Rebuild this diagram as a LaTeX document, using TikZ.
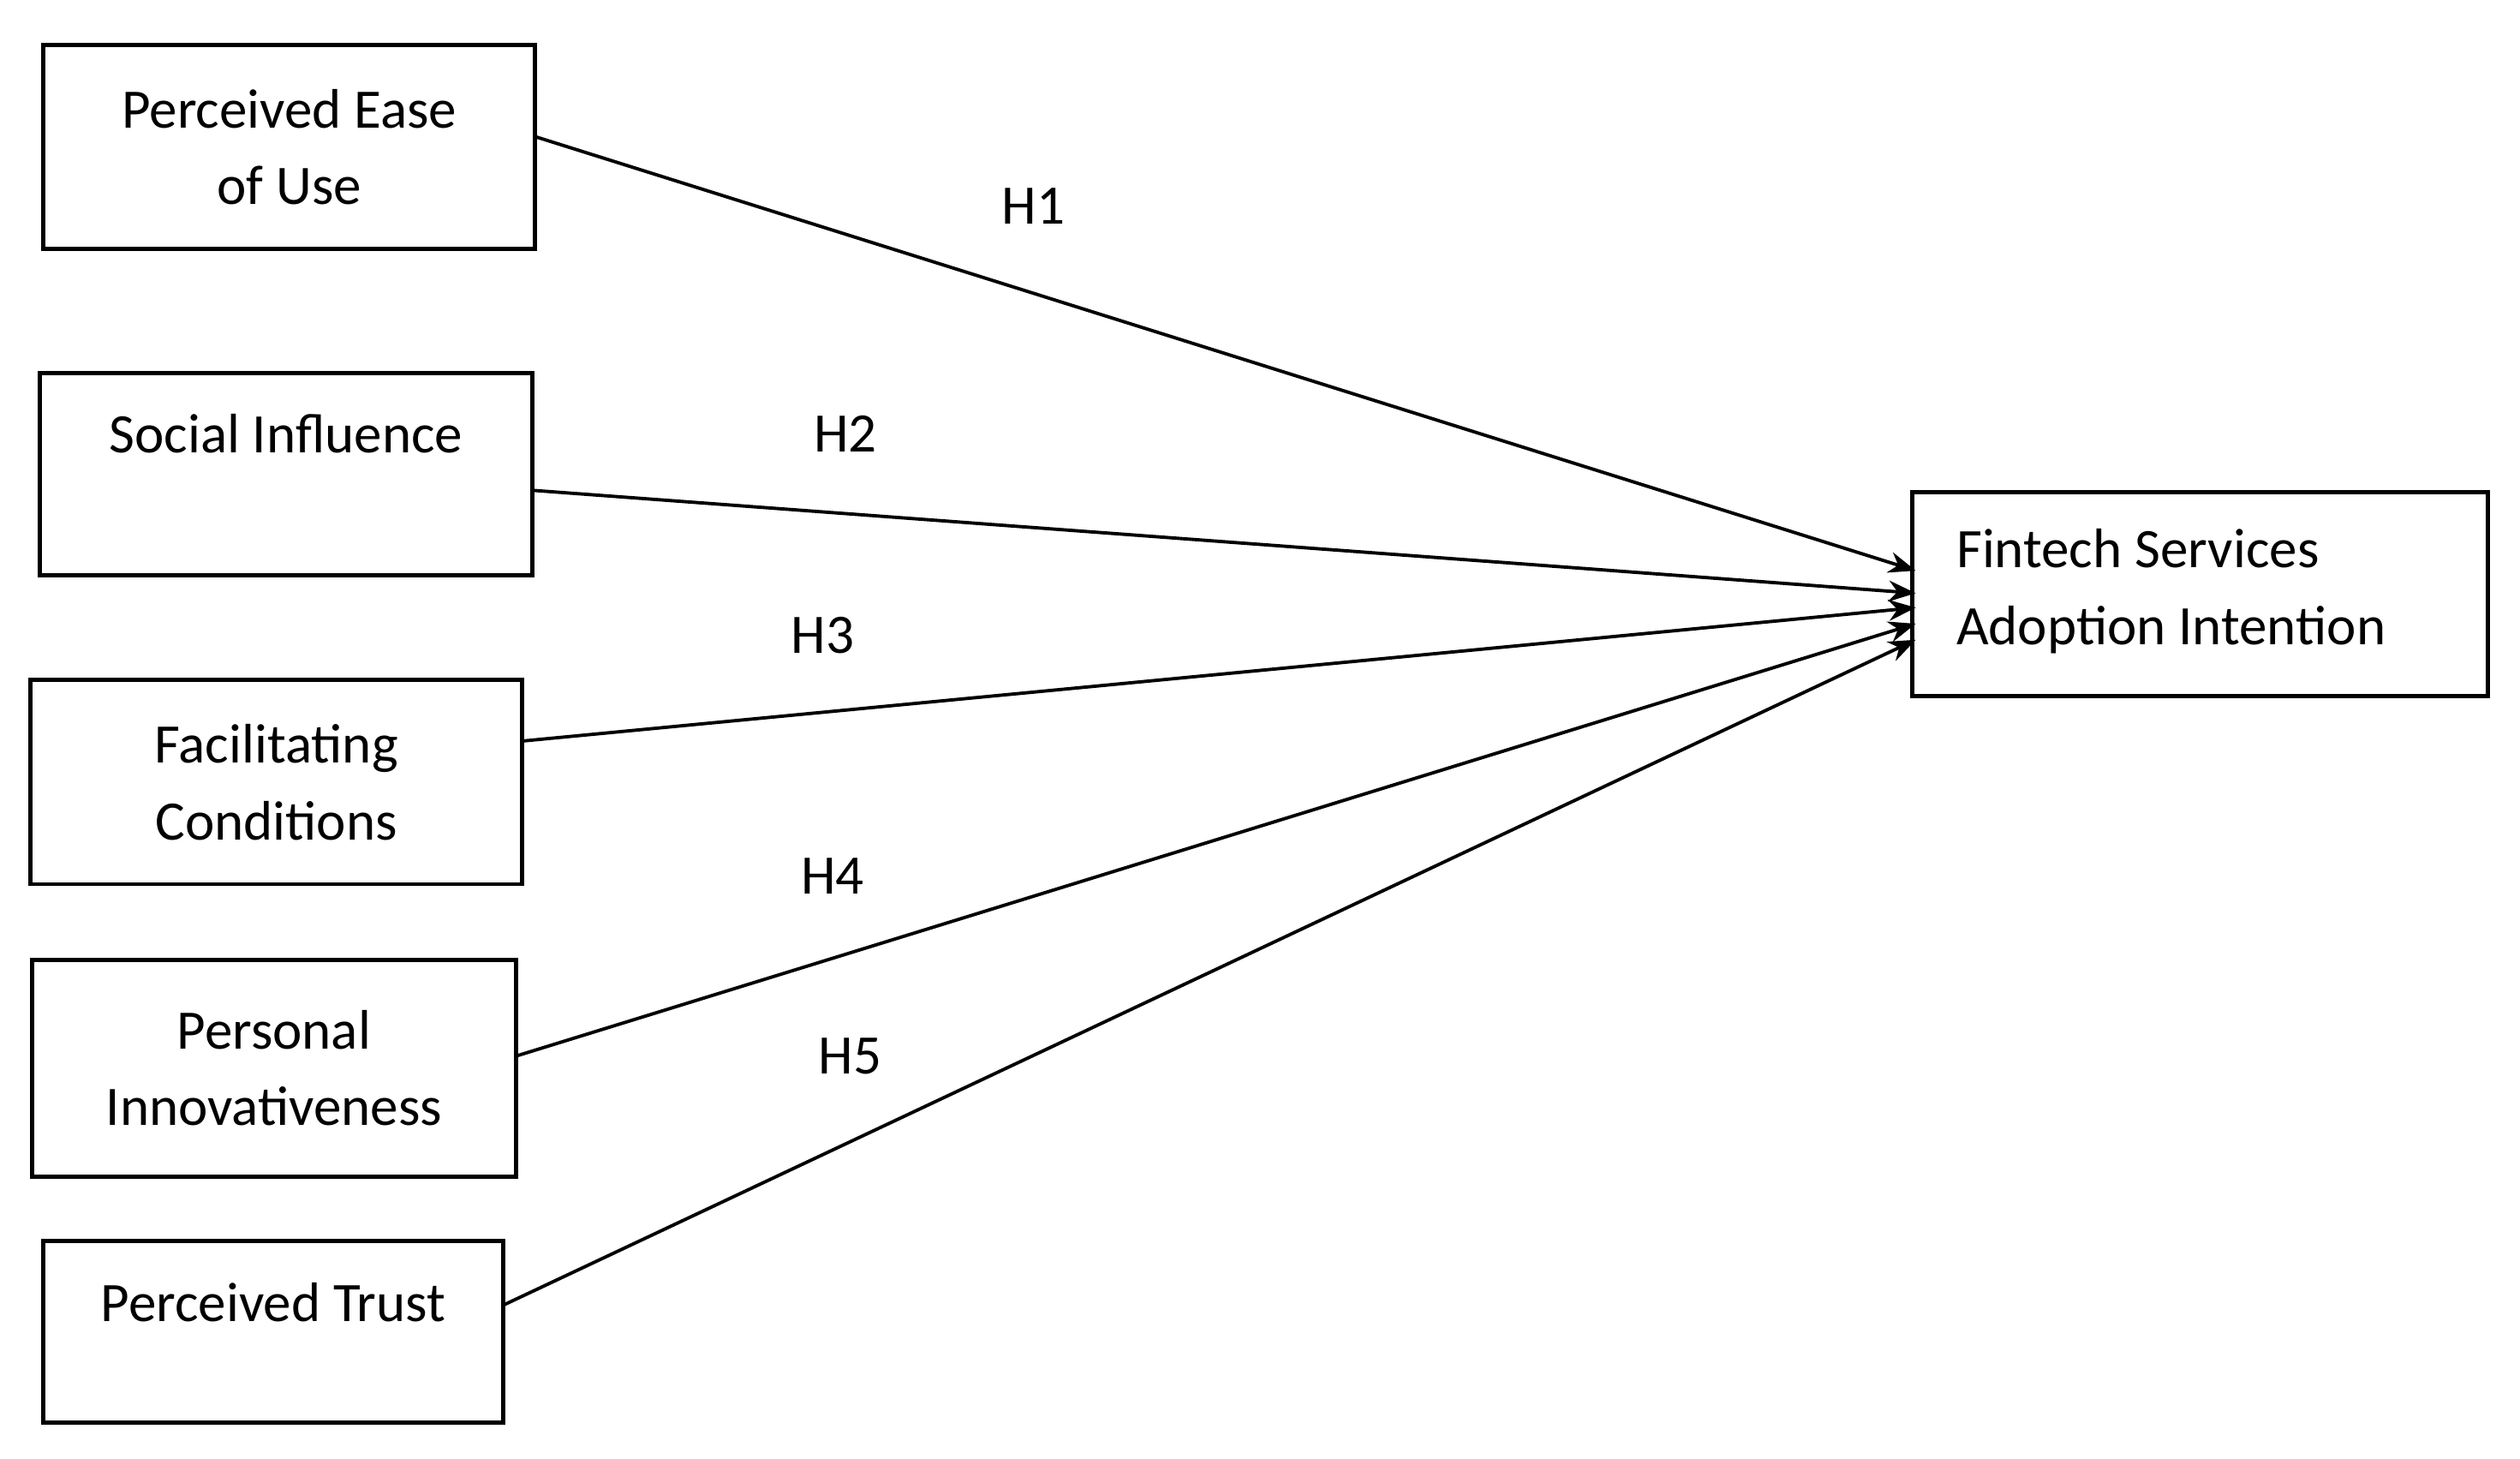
\documentclass[tikz,border=0pt]{standalone}
\usepackage{fontspec}
\setmainfont{Carlito}
\usetikzlibrary{arrows.meta}
\begin{document}
\def\px{0.01876cm}
\begin{tikzpicture}[x=0.01876cm,y=-0.01876cm,
  box/.style={draw,line width=1.4pt,inner sep=0pt,align=center,font=\fontsize{18.5}{25.5}\selectfont},
  lbl/.style={font=\fontsize{18.5}{20}\selectfont,inner sep=0pt},
  txt/.style={font=\fontsize{18.5}{25.5}\selectfont,inner sep=0pt,align=left},
  arr/.style={line width=1.1pt,-{Stealth[length=9pt,width=7pt]}}]
\useasboundingbox (0,0) rectangle (1568,907.6);
\node[box,minimum width={306*\px},minimum height={127*\px}] (peou) at (180,91.5) {Perceived Ease\\of Use};
\node[box,minimum width={306*\px},minimum height={126*\px}] (si) at (178,295) {};
\node[txt] (sit) at (178,270) {Social Influence};
\node[box,minimum width={306*\px},minimum height={127*\px}] (fc) at (172,486.5) {Facilitating\\Conditions};
\node[box,minimum width={301*\px},minimum height={135*\px}] (pi) at (170.5,664.5) {Personal\\Innovativeness};
\node[box,minimum width={286*\px},minimum height={113*\px}] (pt) at (170,828.5) {};
\node[txt] (ptt) at (170,810) {Perceived Trust};
\node[box,minimum width={358*\px},minimum height={127*\px}] (fin) at (1369,369.5) {};
\node[txt,anchor=west] (fint) at (1217,368) {Fintech Services\\Adoption Intention};
\coordinate (e1) at (1192,355);
\coordinate (e2) at (1192,369);
\coordinate (e3) at (1192,378);
\coordinate (e4) at (1192,388);
\coordinate (e5) at (1192,398);
\coordinate (s1) at (333,85);
\coordinate (s2) at (331,305);
\coordinate (s3) at (325,461);
\coordinate (s4) at (321,657);
\coordinate (s5) at (313,812);
\draw[arr] (s1) -- (e1);
\draw[arr] (s2) -- (e2);
\draw[arr] (s3) -- (e3);
\draw[arr] (s4) -- (e4);
\draw[arr] (s5) -- (e5);
\node[lbl] (h1) at (643,128) {H1};
\node[lbl] (h2) at (526,270) {H2};
\node[lbl] (h3) at (512,395) {H3};
\node[lbl] (h4) at (518,545) {H4};
\node[lbl] (h5) at (529,657) {H5};
\end{tikzpicture}
\end{document}
